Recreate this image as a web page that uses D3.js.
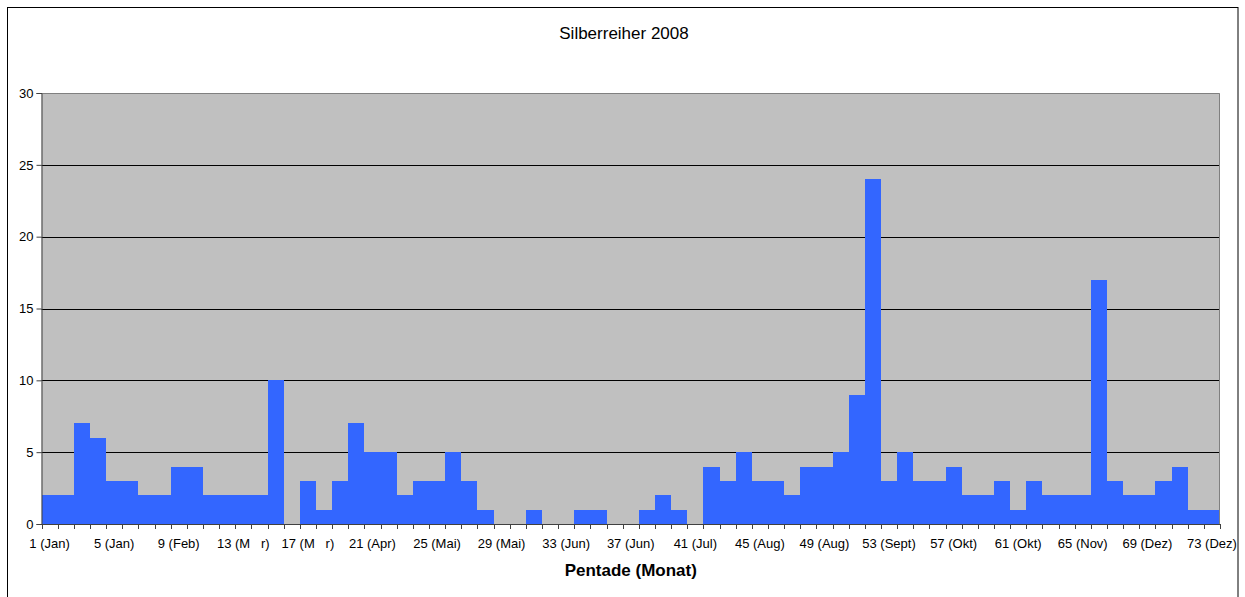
<!DOCTYPE html>
<html><head><meta charset="utf-8">
<script src="https://cdn.jsdelivr.net/npm/d3@7"></script>
<style>body{margin:0;background:#fff}svg{display:block;font-family:"Liberation Sans",Arial,sans-serif}</style>
</head><body><svg id="c" width="1245" height="597"></svg>
<script>
const title = "Silberreiher 2008";
const xTitle = "Pentade (Monat)";
const pentades = d3.range(1, 74);
const values = [2,2,7,6,3,3,2,2,4,4,2,2,2,2,10,0,3,1,3,7,5,5,2,3,3,5,3,1,0,0,1,0,0,1,1,0,0,1,2,1,0,4,3,5,3,3,2,4,4,5,9,24,3,5,3,3,4,2,2,3,1,3,2,2,2,17,3,2,2,3,4,1,1];
const tickLabels = {1:"1 (Jan)",5:"5 (Jan)",9:"9 (Feb)",13:"13 (M\u00a0\u00a0\u00a0r)",17:"17 (M\u00a0\u00a0\u00a0r)",21:"21 (Apr)",25:"25 (Mai)",29:"29 (Mai)",33:"33 (Jun)",37:"37 (Jun)",41:"41 (Jul)",45:"45 (Aug)",49:"49 (Aug)",53:"53 (Sept)",57:"57 (Okt)",61:"61 (Okt)",65:"65 (Nov)",69:"69 (Dez)",73:"73 (Dez)"};
const yTicks = [0,5,10,15,20,25,30];

const svg = d3.select("#c");
const L = 41.5, R = 1220, T = 93, B = 524;

// outer frame
svg.append("rect").attr("x",7.5).attr("y",7.5).attr("width",1230.5).attr("height",600)
  .attr("fill","#fff").attr("stroke","#000").attr("stroke-width",1);

const x = d3.scaleBand().domain(pentades).range([L, R]).padding(0);
const y = d3.scaleLinear().domain([0,30]).range([B, T]);

// plot background
svg.append("rect").attr("x",L).attr("y",T).attr("width",R-L).attr("height",B-T).attr("fill","#C0C0C0");

// gridlines
svg.append("g").selectAll("line").data(yTicks.filter(d=>d>0 && d<30)).join("line")
  .attr("x1",L).attr("x2",R).attr("y1",d=>Math.round(y(d))+0.5).attr("y2",d=>Math.round(y(d))+0.5)
  .attr("stroke","#000").attr("stroke-width",1);

// bars
svg.append("g").attr("shape-rendering","crispEdges").selectAll("rect").data(values.map((v,i)=>({p:pentades[i],v}))).join("rect")
  .attr("x",d=>Math.round(x(d.p)))
  .attr("width",d=>Math.round(x(d.p)+x.bandwidth())-Math.round(x(d.p)))
  .attr("y",d=>Math.round(y(d.v))).attr("height",d=>B-Math.round(y(d.v)))
  .attr("fill","#3366FF");

// plot border top/right
svg.append("path").attr("d",`M${L},${T+0.5}H${R-0.5}V${B}`).attr("fill","none").attr("stroke","#808080");

// y axis
const yAxis = d3.axisLeft(y).tickValues(yTicks).tickSize(5).tickPadding(3);
const gy = svg.append("g").attr("transform",`translate(${L},0)`).call(yAxis);
gy.select(".domain").attr("stroke","#404040");
gy.selectAll(".tick line").attr("stroke","#404040");
gy.selectAll("text").attr("font-size","13px").attr("fill","#000").attr("font-family","Liberation Sans, Arial, sans-serif");

// x axis
const xb = d3.scaleLinear().domain([0,73]).range([L,R]);
const gx = svg.append("g").attr("transform",`translate(0,${B})`);
gx.append("line").attr("x1",L).attr("x2",R).attr("y1",0.5).attr("y2",0.5).attr("stroke","#404040");
gx.selectAll("line.t").data(d3.range(0,74)).join("line").attr("class","t")
  .attr("x1",d=>Math.round(xb(d))+0.5).attr("x2",d=>Math.round(xb(d))+0.5).attr("y1",0).attr("y2",5)
  .attr("stroke","#404040");
gx.selectAll("text").data(pentades.filter(p=>tickLabels[p])).join("text")
  .attr("x",p=>x(p)+x.bandwidth()/2).attr("y",24).attr("text-anchor","middle")
  .attr("font-size","13px").attr("fill","#000").text(p=>tickLabels[p]);

// titles
svg.append("text").attr("x",624).attr("y",39).attr("text-anchor","middle").attr("font-size","17px").text(title);
svg.append("text").attr("x",(L+R)/2).attr("y",576).attr("text-anchor","middle").attr("font-size","17px").attr("font-weight","bold").text(xTitle);
</script></body></html>
